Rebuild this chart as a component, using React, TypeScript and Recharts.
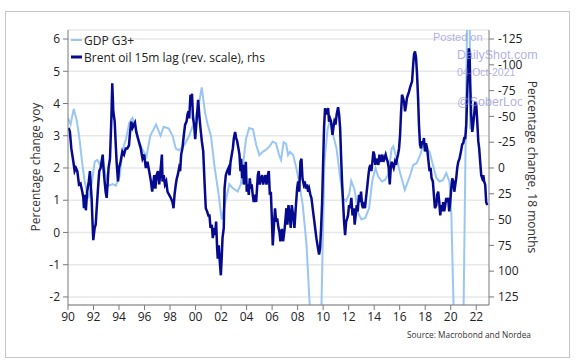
import React from 'react';
import { LineChart, Line, XAxis, YAxis, CartesianGrid } from 'recharts';

// GDP G3+, % y/y (left axis)
const gdpTime = [
  1990.0, 1990.2, 1990.45, 1990.7, 1990.9, 1991.1, 1991.3, 1991.6, 1991.85, 1992.1,
  1992.3, 1992.5, 1992.7, 1992.95, 1993.2, 1993.5, 1993.75, 1994.05, 1994.3, 1994.55,
  1994.8, 1995.05, 1995.25, 1995.5, 1995.8, 1996.15, 1996.45, 1996.9, 1997.25, 1997.5,
  1997.9, 1998.2, 1998.45, 1998.7, 1999.1, 1999.5, 1999.9, 2000.25, 2000.48, 2000.75,
  2000.95, 2001.2, 2001.5, 2001.8, 2002.05, 2002.4, 2002.65, 2002.9, 2003.3, 2003.55,
  2003.75, 2003.95, 2004.2, 2004.5, 2004.75, 2005.0, 2005.27, 2005.5, 2005.8, 2006.05,
  2006.3, 2006.55, 2006.7, 2006.9, 2007.1, 2007.25, 2007.4, 2007.65, 2007.9, 2008.15,
  2008.4, 2008.7, 2009.2, 2009.7, 2010.1, 2010.35, 2010.55, 2010.8, 2011.05, 2011.3,
  2011.55, 2011.8, 2012.05, 2012.2, 2012.45, 2012.75, 2013.0, 2013.3, 2013.6, 2013.85,
  2014.1, 2014.3, 2014.6, 2014.85, 2015.1, 2015.37, 2015.5, 2015.76, 2016.0, 2016.4,
  2016.8, 2017.07, 2017.33, 2017.6, 2017.85, 2018.08, 2018.34, 2018.6, 2018.87, 2019.13,
  2019.4, 2019.65, 2019.9, 2020.05, 2020.45, 2020.75, 2021.0, 2021.45, 2021.52,
];
const gdpValue = [
  3.55, 3.35, 3.83, 3.45, 2.9, 2.2, 1.6, 1.05, 1.5, 2.2,
  2.25, 2.1, 2.3, 1.8, 1.45, 1.5, 1.45, 1.75, 2.6, 2.9,
  3.4, 3.55, 3.35, 2.9, 2.6, 2.35, 3.0, 3.35, 3.0, 3.28,
  3.22, 3.0, 2.6, 2.55, 2.7, 3.0, 3.45, 3.95, 4.5, 3.7,
  3.35, 3.0, 2.0, 1.2, 0.4, 1.05, 1.5, 1.38, 1.27, 1.5,
  2.2, 2.9, 3.24, 3.2, 2.72, 2.4, 2.5, 2.56, 2.67, 2.82,
  2.77, 2.4, 2.25, 2.8, 2.75, 2.4, 2.5, 2.4, 2.0, 1.47,
  0.85, -0.4, -4.2, -5.5, 2.2, 3.2, 3.5, 3.0, 2.6, 1.8,
  1.05, 0.98, 1.2, 1.6, 1.35, 0.6, 0.4, 0.45, 0.75, 1.6,
  2.0, 1.75, 1.58, 1.63, 1.8, 2.6, 2.67, 2.3, 1.9, 1.32,
  1.75, 2.1, 2.15, 2.4, 2.72, 2.6, 2.5, 2.1, 1.69, 1.58,
  1.63, 1.84, 1.58, 0.54, -6, -4, -2.6, 12, 3.2,
];

// Brent oil, % change over 18 months, 15m lag (right axis, reversed)
const brentTime = [
  1990.05, 1990.15, 1990.26, 1990.42, 1990.52, 1990.62, 1990.73, 1990.86, 1990.98, 1991.12,
  1991.2, 1991.25, 1991.33, 1991.4, 1991.5, 1991.63, 1991.72, 1991.78, 1991.85, 1991.92,
  1991.98, 1992.09, 1992.17, 1992.25, 1992.35, 1992.45, 1992.56, 1992.64, 1992.72, 1992.78,
  1992.87, 1992.95, 1993.03, 1993.1, 1993.18, 1993.29, 1993.4, 1993.47, 1993.55, 1993.66,
  1993.73, 1993.81, 1993.92, 1994.0, 1994.12, 1994.26, 1994.39, 1994.52, 1994.65, 1994.78,
  1994.86, 1994.96, 1995.06, 1995.17, 1995.25, 1995.35, 1995.5, 1995.7, 1995.84, 1995.97,
  1996.1, 1996.23, 1996.36, 1996.5, 1996.6, 1996.76, 1996.85, 1996.94, 1997.05, 1997.15,
  1997.25, 1997.36, 1997.41, 1997.5, 1997.6, 1997.7, 1997.8, 1997.93, 1998.06, 1998.19,
  1998.27, 1998.35, 1998.45, 1998.53, 1998.6, 1998.71, 1998.79, 1998.87, 1998.97, 1999.08,
  1999.18, 1999.29, 1999.37, 1999.45, 1999.5, 1999.6, 1999.66, 1999.72, 1999.8, 1999.89,
  1999.97, 2000.05, 2000.12, 2000.2, 2000.3, 2000.38, 2000.49, 2000.6, 2000.7, 2000.8,
  2000.9, 2001.0, 2001.09, 2001.17, 2001.27, 2001.35, 2001.45, 2001.53, 2001.61, 2001.69,
  2001.74, 2001.82, 2001.9, 2001.98, 2002.06, 2002.11, 2002.21, 2002.27, 2002.37, 2002.47,
  2002.58, 2002.66, 2002.74, 2002.84, 2002.92, 2003.0, 2003.1, 2003.18, 2003.26, 2003.36,
  2003.44, 2003.52, 2003.57, 2003.65, 2003.73, 2003.78, 2003.86, 2003.94, 2004.01, 2004.09,
  2004.17, 2004.25, 2004.33, 2004.4, 2004.48, 2004.56, 2004.65, 2004.75, 2004.88, 2004.95,
  2005.03, 2005.14, 2005.22, 2005.3, 2005.4, 2005.48, 2005.56, 2005.66, 2005.74, 2005.82,
  2005.9, 2005.97, 2006.05, 2006.13, 2006.23, 2006.31, 2006.4, 2006.5, 2006.57, 2006.65,
  2006.76, 2006.86, 2006.99, 2007.12, 2007.2, 2007.28, 2007.38, 2007.46, 2007.54, 2007.65,
  2007.75, 2007.85, 2007.96, 2008.04, 2008.12, 2008.22, 2008.3, 2008.38, 2008.48, 2008.56,
  2008.64, 2008.74, 2008.82, 2008.9, 2009.0, 2009.08, 2009.21, 2009.34, 2009.47, 2009.6,
  2009.68, 2009.76, 2009.84, 2009.92, 2010.0, 2010.07, 2010.15, 2010.23, 2010.31, 2010.39,
  2010.46, 2010.54, 2010.62, 2010.73, 2010.8, 2010.88, 2010.97, 2011.06, 2011.17, 2011.25,
  2011.33, 2011.4, 2011.48, 2011.56, 2011.64, 2011.72, 2011.8, 2011.88, 2011.95, 2012.03,
  2012.12, 2012.21, 2012.3, 2012.4, 2012.47, 2012.55, 2012.63, 2012.71, 2012.81, 2012.89,
  2012.97, 2013.05, 2013.13, 2013.2, 2013.28, 2013.36, 2013.44, 2013.55, 2013.62, 2013.7,
  2013.78, 2013.86, 2013.94, 2014.01, 2014.09, 2014.17, 2014.25, 2014.33, 2014.41, 2014.49,
  2014.56, 2014.64, 2014.72, 2014.8, 2014.9, 2014.98, 2015.06, 2015.14, 2015.22, 2015.3,
  2015.37, 2015.45, 2015.53, 2015.63, 2015.71, 2015.79, 2015.87, 2015.95, 2016.03, 2016.1,
  2016.18, 2016.26, 2016.34, 2016.42, 2016.5, 2016.57, 2016.65, 2016.73, 2016.81, 2016.89,
  2016.97, 2017.04, 2017.12, 2017.2, 2017.28, 2017.36, 2017.44, 2017.51, 2017.59, 2017.67,
  2017.75, 2017.82, 2017.9, 2017.98, 2018.06, 2018.15, 2018.26, 2018.34, 2018.42, 2018.5,
  2018.6, 2018.68, 2018.76, 2018.87, 2018.94, 2019.02, 2019.1, 2019.18, 2019.26, 2019.34,
  2019.41, 2019.49, 2019.57, 2019.65, 2019.72, 2019.8, 2019.88, 2019.96, 2020.04, 2020.12,
  2020.2, 2020.28, 2020.36, 2020.43, 2020.51, 2020.59, 2020.69, 2020.8, 2020.9, 2020.98,
  2021.06, 2021.14, 2021.22, 2021.29, 2021.37, 2021.42, 2021.48, 2021.53, 2021.6, 2021.69,
  2021.76, 2021.84, 2021.92, 2022.0, 2022.08, 2022.16, 2022.23, 2022.31, 2022.39, 2022.47,
  2022.55, 2022.62, 2022.7, 2022.78, 2022.86,
];
const brentValue = [
  -39, -35, -19, -6, 3, 0, 3, 16, 15, 23,
  29, 39, 26, 41, 23, 13, 3, 16, 29, 52,
  70, 58, 55, 39, 20, 3, 0, -6, -13, 0,
  13, 23, 29, 16, 0, -9, -48, -82, -55, -45,
  -26, -6, 13, 0, -6, -16, -13, -19, -19, -22,
  -34, -45, -39, -42, -44, -35, -28, -19, -9, -13,
  0, -6, 3, 13, 23, 7, 20, 7, 3, 16,
  3, -13, 13, 7, 16, 13, 23, 26, 29, 33,
  39, 26, 16, 10, 7, 0, 3, -13, -19, -32,
  -42, -45, -52, -55, -48, -71, -61, -72, -48, -42,
  -28, -41, -52, -66, -50, -39, -26, -16, 13, 39,
  42, 46, 46, 58, 55, 68, 58, 65, 52, 78,
  88, 75, 91, 104, 84, 68, 58, 20, 7, 3,
  0, 7, -6, -13, -19, -29, -35, -29, -26, -19,
  -13, 3, -9, 10, -3, 16, 7, -6, 23, 16,
  26, 10, 20, 16, 26, 33, 26, 33, 7, 3,
  16, 10, 7, 16, 10, 7, 16, 7, 3, 26,
  23, 46, 75, 58, 39, 52, 49, 58, 62, 71,
  59, 71, 58, 39, 55, 36, 46, 58, 36, 46,
  58, 39, 20, 13, 23, -6, -9, 10, 16, 13,
  20, 16, 23, 20, 26, 29, 42, 55, 68, 78,
  84, 78, 58, 33, -6, -39, -58, -52, -55, -58,
  -45, -48, -45, -32, -39, -45, -42, -52, -59, -52,
  -39, -13, 13, 33, 52, 65, 52, 49, 46, 36,
  39, 29, 46, 39, 55, 46, 36, 42, 26, 33,
  23, 36, 39, 33, 39, 29, 20, 7, 0, -3,
  3, -6, -16, -13, -3, -9, -6, -3, -13, -6,
  -9, -13, -6, -9, -13, -9, -6, 0, 16, 0,
  -6, -3, 0, -6, -3, -9, -13, -19, -32, -52,
  -71, -68, -64, -55, -61, -68, -71, -74, -78, -81,
  -84, -97, -110, -113, -107, -91, -68, -42, -23, -19,
  -26, -23, -29, -16, -24, -19, -6, 3, 0, 10,
  13, 26, 39, 36, 26, 23, 33, 46, 36, 42,
  33, 42, 36, 29, 33, 29, 42, 33, 20, 10,
  13, 23, 16, 10, 0, -6, -9, -16, -23, -24,
  -29, -29, -42, -71, -100, -116, -110, -81, -52, -35,
  -42, -52, -64, -61, -45, -26, -19, -6, 7, 10,
  7, 13, 16, 33, 36,
];

const yearTicks = [
  1990, 1992, 1994, 1996, 1998, 2000, 2002, 2004, 2006, 2008,
  2010, 2012, 2014, 2016, 2018, 2020, 2022,
];
const leftTicks = [-2, -1, 0, 1, 2, 3, 4, 5, 6];
const rightTicks = [-125, -100, -75, -50, -25, 0, 25, 50, 75, 100, 125];

const gdpData = gdpTime.map((t, i) => ({ t, gdp: gdpValue[i] }));
const brentData = brentTime.map((t, i) => ({ t, brent: brentValue[i] }));

const LIGHT = '#99c6f3';
const NAVY = '#050a8e';
const FONT = '"Open Sans", Arial, sans-serif';
const tickStyle = { fill: '#222', fontSize: 12, fontFamily: FONT };
const axisStroke = '#7a7a7a';

const App: React.FC = () => {
  return (
    <div style={{ position: 'absolute', left: 0, top: 0, width: 576, height: 363, background: '#fff' }}>
      <div
        style={{
          position: 'absolute', left: 5, top: 11, width: 565, height: 347,
          border: '1px solid #c6c6c6', boxSizing: 'border-box',
        }}
      />
      <div style={{ position: 'absolute', left: 0, top: 0 }}>
        <LineChart width={576} height={363} margin={{ top: 30, right: 0, bottom: 28, left: 0 }}>
          <CartesianGrid yAxisId="left" vertical={false} stroke="#e8e8e8" strokeWidth={1.5} />
          <XAxis
            dataKey="t"
            type="number"
            domain={[1990, 2023]}
            ticks={yearTicks}
            allowDataOverflow
            tickFormatter={(y: number) => String(y % 100).padStart(2, '0')}
            height={30}
            tickSize={5}
            tickMargin={2}
            stroke={axisStroke}
            tick={tickStyle}
          />
          <YAxis
            yAxisId="left"
            type="number"
            domain={[-2.25, 6.28]}
            ticks={leftTicks}
            allowDataOverflow
            width={68}
            tickSize={5}
            tickMargin={3}
            stroke={axisStroke}
            tick={tickStyle}
          />
          <YAxis
            yAxisId="right"
            orientation="right"
            type="number"
            reversed
            domain={[-133.75, 132.8]}
            ticks={rightTicks}
            allowDataOverflow
            width={87}
            tickSize={5}
            tickMargin={4}
            stroke={axisStroke}
            tick={{ ...tickStyle, textAnchor: 'start' }}
          />
          <Line
            yAxisId="left"
            data={gdpData}
            dataKey="gdp"
            type="linear"
            stroke={LIGHT}
            strokeWidth={2}
            dot={false}
            activeDot={false}
            isAnimationActive={false}
          />
          <Line
            yAxisId="right"
            data={brentData}
            dataKey="brent"
            type="linear"
            stroke={NAVY}
            strokeWidth={2.5}
            dot={false}
            activeDot={false}
            isAnimationActive={false}
          />
        </LineChart>
      </div>
      <svg
        width={576}
        height={363}
        style={{ position: 'absolute', left: 0, top: 0, pointerEvents: 'none' }}
        fontFamily={FONT}
      >
        {/* legend */}
        <line x1={71} y1={40} x2={82} y2={40} stroke={LIGHT} strokeWidth={2} />
        <text x={84} y={44.5} fontSize={12} fill="#222">GDP G3+</text>
        <line x1={71} y1={57} x2={82} y2={57} stroke={NAVY} strokeWidth={3} />
        <text x={84} y={61.5} fontSize={12} fill="#222">Brent oil 15m lag (rev. scale), rhs</text>

        {/* axis titles */}
        <text x={40} y={167} fontSize={12} fill="#333" textAnchor="middle" transform="rotate(-90 40 167)">
          Percentage change yoy
        </text>
        <text x={528} y={167} fontSize={12} fill="#333" textAnchor="middle" transform="rotate(90 528 167)">
          Percentage change, 18 months
        </text>

        <text x={531} y={338} fontSize={9} fill="#333" textAnchor="end" textLength={124} lengthAdjust="spacingAndGlyphs">
          Source: Macrobond and Nordea
        </text>

        {/* watermark */}
        <defs>
          <clipPath id="wm">
            <rect x={440} y={85} width={82} height={30} />
          </clipPath>
        </defs>
        <g fill="#8c8ed8" fillOpacity={0.7} fontFamily="'Liberation Sans', Arial, sans-serif">
          <text x={433} y={41} fontSize={11}>Posted on</text>
          <text x={457} y={59} fontSize={12.5}>DailyShot.com</text>
          <text x={457} y={76} fontSize={10.5}>04-Oct-2021</text>
          <text x={457} y={106} fontSize={12.5} clipPath="url(#wm)">@SoberLook</text>
        </g>
      </svg>
    </div>
  );
};

export default App;
